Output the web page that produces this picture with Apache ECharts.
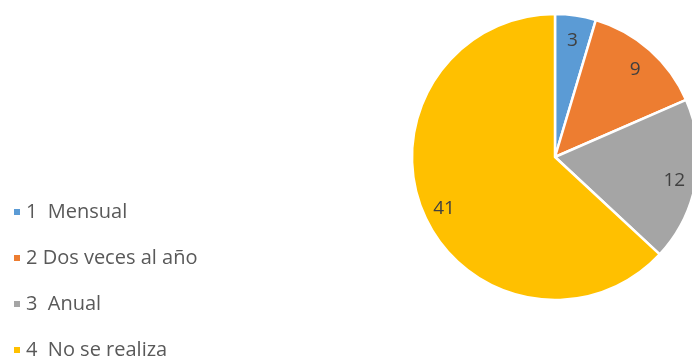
<!DOCTYPE html>
<html>
<head>
<meta charset="utf-8">
<style>
  html, body { margin: 0; padding: 0; background: #fff; }
  #chart { width: 692px; height: 361px; }
</style>
<script src="https://cdn.jsdelivr.net/npm/echarts@6/dist/echarts.min.js"></script>
</head>
<body>
<div id="chart"></div>
<script>
var categories = ['1  Mensual', '2 Dos veces al año', '3  Anual', '4  No se realiza'],
    values = [3, 9, 12, 41],
    colors = ['#5B9BD5', '#ED7D31', '#A5A5A5', '#FFC000'];

var chart = echarts.init(document.getElementById('chart'));

var pieData = categories.map(function(name, i) {
    return { name: name, value: values[i], itemStyle: { color: colors[i] } };
});

var labelData = categories.map(function(name, i) {
    return { name: name, value: values[i] };
});

chart.setOption({
    animation: false,
    textStyle: { fontFamily: 'Open Sans' },
    legend: {
        orient: 'vertical',
        left: 12,
        top: 202,
        height: 200,
        padding: 0,
        itemWidth: 8,
        itemHeight: 8,
        itemGap: 26,
        icon: 'rect',
        data: categories,
        textStyle: { fontSize: 20, lineHeight: 18, color: '#595959', fontFamily: 'Open Sans' }
    },
    series: [{
        name: 'pie',
        type: 'pie',
        center: [555, 157],
        radius: [0, 143],
        startAngle: 90,
        clockwise: true,
        silent: true,
        itemStyle: { borderColor: '#fff', borderWidth: 2.5 },
        label: { show: false },
        labelLine: { show: false },
        data: pieData
    }, {
        // transparent ring only used to place the value labels
        name: 'labels',
        type: 'pie',
        center: [555, 160],
        radius: [92, 144],
        startAngle: 90,
        clockwise: true,
        silent: true,
        legendHoverLink: false,
        itemStyle: { color: 'rgba(0,0,0,0)' },
        label: {
            show: true,
            position: 'inside',
            formatter: '{c}',
            fontSize: 19,
            color: '#404040',
            fontFamily: 'Open Sans'
        },
        labelLine: { show: false },
        data: labelData
    }]
});
</script>
</body>
</html>
